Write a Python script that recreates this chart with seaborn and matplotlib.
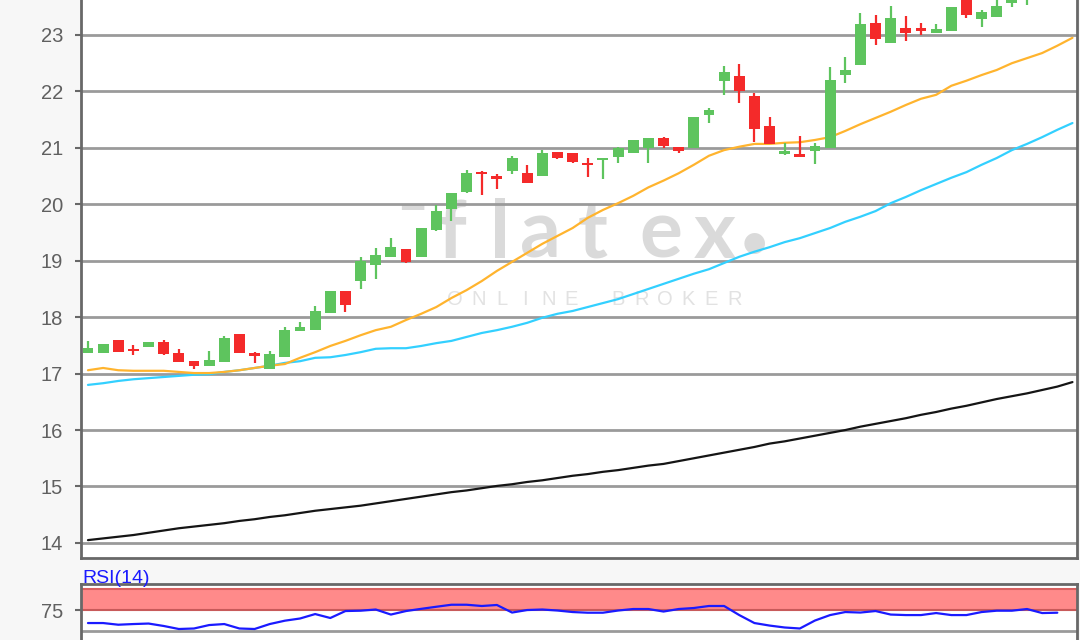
import numpy as np
import matplotlib.pyplot as plt
import seaborn as sns

# daily candles (price)
opens = [17.37, 17.37, 17.60, 17.41, 17.47, 17.56, 17.37, 17.22, 17.13, 17.21,
         17.70, 17.37, 17.08, 17.30, 17.76, 17.77, 18.07, 18.46, 18.64, 18.92,
         19.07, 19.21, 19.07, 19.55, 19.92, 20.22, 20.56, 20.50, 20.59, 20.55,
         20.50, 20.93, 20.91, 20.73, 20.78, 20.84, 20.91, 21.00, 21.18, 21.02,
         21.00, 21.58, 22.18, 22.27, 21.92, 21.39, 20.90, 20.89, 20.94, 21.00,
         22.29, 22.47, 23.21, 22.86, 23.12, 23.12, 23.04, 23.07, 23.70, 23.28,
         23.32, 23.57, 23.68, 23.75, 23.90]
highs = [17.58, 17.52, 17.60, 17.51, 17.56, 17.59, 17.44, 17.22, 17.40, 17.67,
         17.70, 17.38, 17.40, 17.83, 17.91, 18.20, 18.46, 18.46, 19.07, 19.23,
         19.40, 19.21, 19.58, 19.99, 20.20, 20.61, 20.59, 20.54, 20.86, 20.70,
         20.96, 20.93, 20.91, 20.82, 20.82, 21.02, 21.14, 21.18, 21.19, 21.02,
         21.55, 21.71, 22.45, 22.49, 21.97, 21.55, 21.09, 21.21, 21.09, 22.43,
         22.61, 23.39, 23.35, 23.51, 23.34, 23.21, 23.19, 23.50, 23.80, 23.44,
         23.65, 23.70, 23.80, 23.95, 24.10]
lows = [17.37, 17.37, 17.38, 17.33, 17.47, 17.33, 17.21, 17.08, 17.13, 17.21,
        17.37, 17.19, 17.08, 17.30, 17.76, 17.77, 18.07, 18.09, 18.50, 18.68,
        19.07, 18.96, 19.07, 19.53, 19.70, 20.20, 20.17, 20.27, 20.54, 20.38,
        20.50, 20.80, 20.73, 20.48, 20.45, 20.73, 20.91, 20.73, 21.00, 20.91,
        21.00, 21.44, 21.94, 21.80, 21.10, 21.07, 20.87, 20.84, 20.71, 21.00,
        22.15, 22.47, 22.82, 22.86, 22.89, 23.00, 23.04, 23.07, 23.30, 23.14,
        23.32, 23.50, 23.53, 23.70, 23.80]
closes = [17.46, 17.52, 17.38, 17.40, 17.56, 17.35, 17.21, 17.13, 17.24, 17.63,
          17.37, 17.32, 17.35, 17.77, 17.83, 18.11, 18.46, 18.22, 19.00, 19.10,
          19.24, 18.98, 19.58, 19.88, 20.20, 20.55, 20.53, 20.45, 20.82, 20.38,
          20.91, 20.82, 20.75, 20.70, 20.82, 21.00, 21.14, 21.18, 21.03, 20.95,
          21.55, 21.67, 22.34, 22.01, 21.33, 21.07, 20.92, 20.84, 21.03, 22.20,
          22.38, 23.19, 22.93, 23.30, 23.04, 23.07, 23.11, 23.50, 23.35, 23.41,
          23.51, 23.66, 23.75, 23.90, 24.00]

# moving averages
ma_fast = [17.06, 17.10, 17.06, 17.05, 17.05, 17.05, 17.03, 17.01, 17.01, 17.03,
           17.06, 17.10, 17.14, 17.17, 17.28, 17.38, 17.49, 17.58, 17.68, 17.77,
           17.83, 17.95, 18.06, 18.18, 18.34, 18.48, 18.64, 18.82, 18.98, 19.14,
           19.30, 19.44, 19.58, 19.76, 19.90, 20.02, 20.15, 20.30, 20.42, 20.55,
           20.70, 20.86, 20.96, 21.02, 21.07, 21.07, 21.09, 21.10, 21.14, 21.19,
           21.30, 21.42, 21.53, 21.64, 21.76, 21.87, 21.94, 22.10, 22.19, 22.29,
           22.38, 22.50, 22.59, 22.68, 22.81, 22.95]
ma_mid = [16.80, 16.83, 16.87, 16.90, 16.92, 16.94, 16.96, 16.98, 16.99, 17.03,
          17.06, 17.10, 17.14, 17.19, 17.22, 17.28, 17.29, 17.33, 17.38, 17.44,
          17.45, 17.45, 17.49, 17.54, 17.58, 17.65, 17.72, 17.77, 17.83, 17.90,
          17.99, 18.06, 18.11, 18.18, 18.25, 18.32, 18.41, 18.50, 18.59, 18.68,
          18.77, 18.85, 18.96, 19.07, 19.16, 19.24, 19.33, 19.40, 19.49, 19.58,
          19.69, 19.78, 19.88, 20.02, 20.13, 20.25, 20.36, 20.47, 20.57, 20.70,
          20.82, 20.96, 21.07, 21.19, 21.32, 21.44]
ma_slow = [14.05, 14.08, 14.11, 14.14, 14.18, 14.22, 14.26, 14.29, 14.32, 14.35,
           14.39, 14.42, 14.46, 14.49, 14.53, 14.57, 14.60, 14.63, 14.66, 14.70,
           14.74, 14.78, 14.82, 14.86, 14.90, 14.93, 14.97, 15.01, 15.04, 15.08,
           15.11, 15.15, 15.19, 15.22, 15.26, 15.29, 15.33, 15.37, 15.40, 15.45,
           15.50, 15.55, 15.60, 15.65, 15.70, 15.76, 15.80, 15.85, 15.90, 15.95,
           16.00, 16.06, 16.11, 16.16, 16.21, 16.27, 16.32, 16.38, 16.43, 16.49,
           16.55, 16.60, 16.65, 16.71, 16.77, 16.85]

# RSI(14)
rsi = [59.5, 59.5, 57.5, 58.3, 58.9, 56.0, 52.4, 53.0, 57.1, 58.3,
       53.0, 52.4, 58.3, 62.3, 64.9, 70.2, 65.5, 73.8, 74.2, 75.6,
       69.6, 73.8, 76.4, 78.9, 81.3, 81.3, 79.8, 81.0, 72.0, 75.0,
       75.6, 74.4, 72.6, 71.8, 71.8, 74.4, 76.2, 76.2, 73.2, 76.2,
       77.4, 79.8, 79.8, 69.0, 59.5, 56.5, 54.2, 53.0, 62.5, 69.0,
       72.6, 72.0, 73.8, 69.6, 69.0, 69.0, 71.4, 69.0, 69.0, 72.6,
       74.2, 74.2, 76.2, 71.4, 71.8]

price_ticks = [14, 15, 16, 17, 18, 19, 20, 21, 22, 23]

GREEN = '#5ec45e'
RED = '#f42a2a'
GRID = '#9a9a9a'
SPINE = '#686868'

sns.set_style("white")
plt.rcParams['font.family'] = ['Liberation Sans', 'DejaVu Sans']

W, H = 1080, 640
fig = plt.figure(figsize=(W / 100, H / 100), dpi=100, facecolor='#f7f7f7')
ax = fig.add_axes([81 / W, 1 - 558 / H, (1077 - 81) / W, 558 / H])
ax_rsi = fig.add_axes([81 / W, 0, (1077 - 81) / W, (640 - 584) / H])

# --- candles
o = np.array(opens); c = np.array(closes)
idx = np.arange(len(o))
up = c >= o
colors = np.where(up, GREEN, RED)
body_lo = np.minimum(o, c)
body_h = np.maximum(np.abs(c - o), 0.04)
ax.vlines(idx, lows, highs, colors=colors, lw=1.6, zorder=3)
ax.bar(idx, body_h, bottom=body_lo, width=0.72, color=colors, lw=0, zorder=4)

# --- moving averages
ma_idx = np.arange(len(ma_fast))
sns.lineplot(x=ma_idx, y=ma_slow, color='#151515', lw=1.6, ax=ax, zorder=2)
sns.lineplot(x=ma_idx, y=ma_mid, color='#33d0ff', lw=1.6, ax=ax, zorder=2)
sns.lineplot(x=ma_idx, y=ma_fast, color='#ffb42e', lw=1.6, ax=ax, zorder=2)

ax.set_xlim(-0.46, 65.3)
ax.set_ylim(13.733, 23.62)
ax.set_yticks(price_ticks)
ax.set_xticks([])
ax.yaxis.grid(True, color=GRID, lw=2)
ax.set_axisbelow(True)
ax.tick_params(axis='y', left=True, length=4, width=1.5, color=SPINE,
               labelcolor='#606060', labelsize=14.5, pad=9)
for side in ['left', 'bottom', 'right']:
    ax.spines[side].set_color(SPINE)
    ax.spines[side].set_linewidth(2)
ax.spines['top'].set_visible(False)

# watermark (behind the grid and candles)
wm_kw = dict(transform=fig.transFigure, color='#dadada', fontsize=58, fontweight='bold',
             family=['Lato', 'DejaVu Sans'], ha='center', va='baseline', zorder=0.2)
for ch, px in zip('flatex', [452, 500, 540, 593, 661, 715]):
    ax.text(px / W, 1 - 258 / H, ch, **wm_kw)
ax.text(754 / W, 1 - 258 / H, '•', **{**wm_kw, 'fontsize': 34})
ax.text(412 / W, 1 - 224 / H, '–', **{**wm_kw, 'fontsize': 40})
for k, ch in enumerate('ONLINE BROKER'):
    if ch != ' ':
        ax.text((455 + 23.3 * k) / W, 1 - 305 / H, ch, transform=fig.transFigure,
                color='#e2e2e2', fontsize=14.5, ha='center', va='baseline', zorder=0.2)

# --- RSI panel
ax_rsi.axhspan(75, 100, color='#ff8a8a', lw=0, zorder=1)
ax_rsi.axhline(100, color='#d86060', lw=1.5, zorder=1.5)
ax_rsi.axhline(75, color='#c85a5a', lw=1.5, zorder=1.5)
ax_rsi.axhline(50, color=GRID, lw=2, zorder=1)
sns.lineplot(x=np.arange(len(rsi)), y=rsi, color='#1a1aff', lw=1.6, ax=ax_rsi, zorder=3)
ax_rsi.set_xlim(-0.46, 65.3)
ax_rsi.set_ylim(39.3, 106)
ax_rsi.set_yticks([75])
ax_rsi.set_xticks([])
ax_rsi.tick_params(axis='y', left=True, length=4, width=1.5, color=SPINE,
                   labelcolor='#606060', labelsize=14.5, pad=9)
for side in ['left', 'top', 'right']:
    ax_rsi.spines[side].set_color(SPINE)
    ax_rsi.spines[side].set_linewidth(2)
ax_rsi.spines['bottom'].set_visible(False)

fig.text(82 / W, 1 - 583 / H, 'RSI(14)', color='#1a1aff', fontsize=14, ha='left', va='baseline')

fig.savefig('out.png', dpi=100, facecolor=fig.get_facecolor())
